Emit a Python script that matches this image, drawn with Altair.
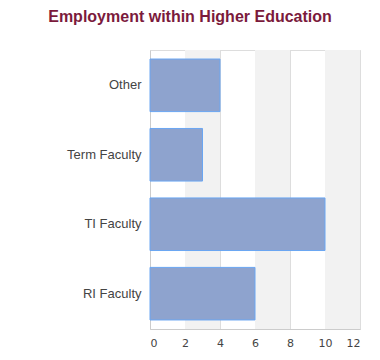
import altair as alt
import pandas as pd

categories = ["Other", "Term Faculty", "TI Faculty", "RI Faculty"]
values = [4, 3, 10, 6]
x_ticks = [0, 2, 4, 6, 8, 10, 12]

df = pd.DataFrame({"category": categories, "value": values})
band_starts = x_ticks[1::2]
bands = pd.DataFrame({"start": band_starts, "end": [b + 2 for b in band_starts]})

xscale = alt.Scale(domain=[0, 12], nice=False)
xaxis = alt.Axis(
    values=x_ticks,
    labelFont="DejaVu Sans",
    labelFontSize=11,
    labelColor="#444444",
    labelPadding=8,
    ticks=False,
    domainColor="#cccccc",
    gridColor="#dddddd",
    grid=True,
)

band_layer = alt.Chart(bands).mark_rect(color="#f2f2f2").encode(
    x=alt.X("start:Q", scale=xscale, axis=xaxis, title=None),
    x2="end:Q",
)

bars = alt.Chart(df).mark_bar(
    color="#8ea3ce", stroke="#6aa6f2", strokeWidth=1
).encode(
    y=alt.Y(
        "category:N",
        sort=categories,
        title=None,
        scale=alt.Scale(paddingInner=0.243, paddingOuter=0.13),
        axis=alt.Axis(
            labelFont="Liberation Sans",
            labelFontSize=13,
            labelColor="#444444",
            labelPadding=9,
            ticks=False,
            domainColor="#cccccc",
            grid=False,
        ),
    ),
    x=alt.X("value:Q", scale=xscale, title=None, axis=xaxis),
)

chart = alt.layer(band_layer, bars).properties(
    width=210,
    height=279,
    autosize=alt.AutoSizeParams(type="none"),
    padding={"left": 142, "top": 42, "right": 10, "bottom": 30},
    title=alt.Title(
        "Employment within Higher Education",
        font="Liberation Sans",
        fontSize=16,
        fontWeight="bold",
        color="#7b1a3c",
        anchor="middle",
        dx=-65,
        offset=25,
    ),
).configure_view(stroke="#dddddd")

chart.save("out.html", embed_options={"renderer": "svg", "actions": False})
